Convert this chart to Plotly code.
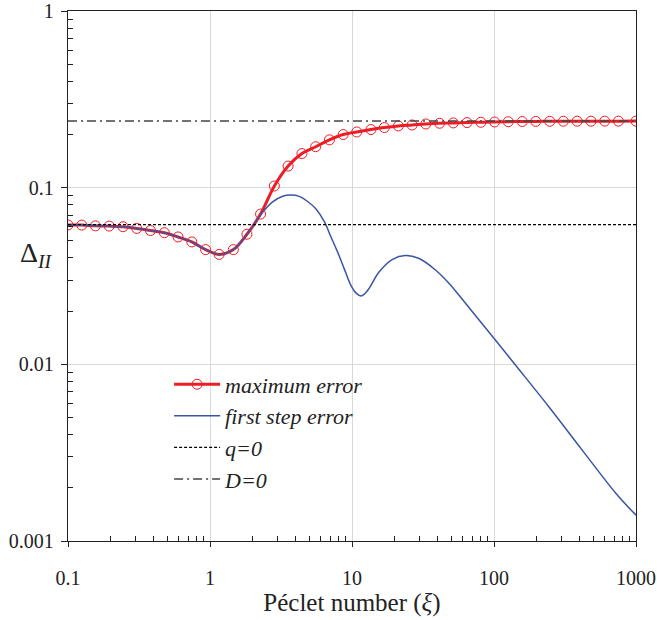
import plotly.graph_objects as go

# ---- data ----
max_err_x = [0.1, 0.125, 0.156, 0.195, 0.244, 0.305, 0.381, 0.477, 0.596, 0.745,
             0.931, 1.16, 1.46, 1.82, 2.27, 2.84, 3.55, 4.44, 5.55, 6.94,
             8.67, 10.8, 13.6, 16.9, 21.2, 26.5, 33.1, 41.4, 51.7, 64.6,
             80.8, 101, 126, 158, 197, 247, 308, 385, 482, 602, 752, 1000]
max_err_y = [0.0615, 0.0614, 0.0608, 0.0606, 0.0601, 0.0588, 0.0572, 0.0556, 0.0526, 0.0493,
             0.0446, 0.0419, 0.0446, 0.0545, 0.0709, 0.1022, 0.1325, 0.1560, 0.1705, 0.1865,
             0.1998, 0.2067, 0.2133, 0.2189, 0.2235, 0.2264, 0.2294, 0.2315, 0.2325, 0.2336,
             0.2345, 0.2354, 0.2362, 0.2368, 0.2372, 0.2375, 0.2377, 0.2378, 0.2379, 0.2380,
             0.2380, 0.2381]

first_x = [0.1, 0.125, 0.156, 0.195, 0.244, 0.305, 0.381, 0.477, 0.596, 0.745,
           0.931, 1.16, 1.46, 1.82, 2.05, 2.29, 2.76, 3.25, 3.72, 4.25,
           4.85, 5.6, 6.4, 7.1, 7.91, 8.81, 9.82, 10.7, 11.55, 12.3,
           13.2, 15.5, 19.3, 23.7, 29.7, 38.9, 48.3, 63.2, 98.9, 142,
           244, 418, 718, 1000]
first_y = [0.0615, 0.0614, 0.0608, 0.0606, 0.0601, 0.0588, 0.0572, 0.0556, 0.0526, 0.0493,
           0.0446, 0.0419, 0.0446, 0.0545, 0.0618, 0.0707, 0.0830, 0.0894, 0.0908, 0.0893,
           0.0838, 0.0755, 0.0640, 0.0527, 0.0433, 0.0348, 0.0280, 0.0253, 0.0244, 0.0251,
           0.0269, 0.0333, 0.0393, 0.0413, 0.0397, 0.0341, 0.0287, 0.0221, 0.01418, 0.00988,
           0.00574, 0.00327, 0.00187, 0.0014]

q0_value = 0.0618
d0_value = 0.2383
x_limits = [0.1, 1000]

x_tickvals = [0.1, 1, 10, 100, 1000]
x_ticktext = ["0.1", "1", "10", "100", "1000"]
y_tickvals = [0.001, 0.01, 0.1, 1]
y_ticktext = ["0.001", "0.01", "0.1", "1"]

FONT = "Times New Roman"
RED = "#ee1c25"
BLUE = "#3a55a4"
INK = "#222222"

minor_vals = [k * 10.0 ** e for e in range(-3, 3) for k in range(2, 10)]

fig = go.Figure()
fig.add_trace(go.Scatter(
    x=max_err_x, y=max_err_y, mode="lines+markers", name="<i>maximum error</i>",
    line=dict(color=RED, width=3, shape="spline"),
    marker=dict(symbol="circle-open", size=10, color=RED, line=dict(width=1, color=RED)),
))
fig.add_trace(go.Scatter(
    x=first_x, y=first_y, mode="lines", name="<i>first step error</i>",
    line=dict(color=BLUE, width=1.5, shape="spline"),
))
fig.add_trace(go.Scatter(
    x=x_limits, y=[q0_value, q0_value], mode="lines", name="<i>q=0</i>",
    line=dict(color="black", width=1.2, dash="3px,2px"),
))
fig.add_trace(go.Scatter(
    x=x_limits, y=[d0_value, d0_value], mode="lines", name="<i>D=0</i>",
    line=dict(color="#444444", width=1.5, dash="9px,4px,2px,4px"),
))

fig.update_layout(
    width=657, height=620,
    margin=dict(l=68, r=21, t=11, b=79, autoexpand=False),
    paper_bgcolor="white", plot_bgcolor="white",
    font=dict(family=FONT, color=INK, size=20),
    legend=dict(
        x=0.178, y=0.335, xanchor="left", yanchor="top",
        bgcolor="rgba(0,0,0,0)", font=dict(family=FONT, size=22, color=INK),
        itemwidth=46,
    ),
    annotations=[dict(
        text="Δ<sub><i>II</i></sub>", xref="paper", yref="paper",
        x=-0.088, y=0.54, xanchor="left", yanchor="middle", showarrow=False,
        font=dict(family=FONT, size=28, color=INK),
    )],
)
fig.update_xaxes(
    type="log", range=[-1, 3], automargin=False,
    tickmode="array", tickvals=x_tickvals, ticktext=x_ticktext,
    ticks="outside", ticklen=5, tickcolor=INK, ticklabelstandoff=14,
    ticklabeloverflow="allow",
    tickfont=dict(family=FONT, size=20, color=INK),
    showline=True, linecolor=INK, linewidth=1.3, mirror=True,
    showgrid=True, gridcolor="#d9d9d9", gridwidth=1, zeroline=False,
    minor=dict(tickmode="array", tickvals=minor_vals, ticks="inside", ticklen=5,
               tickcolor=INK, showgrid=False),
    title=dict(text="Péclet number (<i>ξ</i>)", font=dict(family=FONT, size=25, color=INK), standoff=4),
)
fig.update_yaxes(
    type="log", range=[-3, 0], automargin=False,
    tickmode="array", tickvals=y_tickvals, ticktext=y_ticktext,
    ticks="outside", ticklen=6, tickcolor=INK, ticklabelstandoff=3,
    ticklabeloverflow="allow",
    tickfont=dict(family=FONT, size=20, color=INK),
    showline=True, linecolor=INK, linewidth=1.3, mirror=True,
    showgrid=True, gridcolor="#d9d9d9", gridwidth=1, zeroline=False,
    minor=dict(tickmode="array", tickvals=minor_vals, ticks="inside", ticklen=5,
               tickcolor=INK, showgrid=False),
)

fig.write_html(
    "out.html",
    config={"displayModeBar": False},
    post_script="document.body.style.margin='0';document.body.style.overflow='hidden';",
)
